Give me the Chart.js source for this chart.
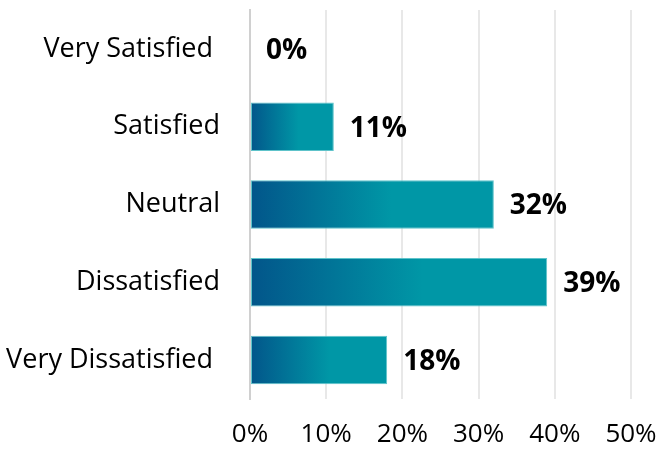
<!DOCTYPE html>
<html>
<head>
<meta charset="utf-8">
<script src="https://cdn.jsdelivr.net/npm/chart.js@4"></script>
<style>
  html, body { margin: 0; padding: 0; background: #ffffff; }
  #wrap { width: 659px; height: 455px; position: relative; }
</style>
</head>
<body>
<div id="wrap"><canvas id="chart"></canvas></div>
<script>
// Survey satisfaction breakdown
const categories = ['Very Satisfied ', 'Satisfied', 'Neutral', 'Dissatisfied', 'Very Dissatisfied '];
const shares = [0, 11, 32, 39, 18];
const axisMin = 0;
const axisMax = 50;
const axisStep = 10;

const DARK = '#02558a';
const TEAL = '#0097a6';

function barGradient(ctx) {
  const chart = ctx.chart;
  if (!chart.chartArea || ctx.type !== 'data') return TEAL;
  const xs = chart.scales.x;
  const x0 = xs.getPixelForValue(0);
  const x1 = xs.getPixelForValue(ctx.raw);
  if (x1 - x0 < 1) return TEAL;
  const g = chart.ctx.createLinearGradient(x0, 0, x1, 0);
  g.addColorStop(0, DARK);
  g.addColorStop(0.58, TEAL);
  g.addColorStop(1, TEAL);
  return g;
}

const valueLabels = {
  id: 'valueLabels',
  afterDatasetsDraw(chart) {
    const c = chart.ctx;
    const meta = chart.getDatasetMeta(0);
    c.save();
    c.font = 'bold 28px "Open Sans"';
    c.fillStyle = '#000000';
    c.textAlign = 'left';
    c.textBaseline = 'middle';
    meta.data.forEach((bar, i) => {
      c.fillText(shares[i] + '%', bar.x + 16, bar.y + 2);
    });
    c.restore();
  }
};

new Chart(document.getElementById('chart'), {
  type: 'bar',
  data: {
    labels: categories,
    datasets: [{
      data: shares,
      backgroundColor: barGradient,
      borderColor: '#5ec3ca',
      borderWidth: 1,
      borderSkipped: false,
      barPercentage: 0.78,
      categoryPercentage: 0.8
    }]
  },
  options: {
    indexAxis: 'y',
    responsive: true,
    maintainAspectRatio: false,
    animation: false,
    layout: { padding: { top: 10, right: 28, left: 0, bottom: 0 } },
    plugins: { legend: { display: false }, tooltip: { enabled: false } },
    scales: {
      x: {
        min: axisMin,
        max: axisMax,
        ticks: {
          stepSize: axisStep,
          callback: v => v + '%',
          color: '#000000',
          font: { family: 'Open Sans', size: 26 },
          padding: 20
        },
        grid: { color: '#e8e8e8', lineWidth: 2, drawTicks: false },
        border: { display: false },
        afterFit(scale) {
          scale.height = 56;
          scale.paddingLeft = 0;
          scale.paddingRight = 0;
        }
      },
      y: {
        ticks: {
          color: '#000000',
          font: { family: 'Open Sans', size: 27 },
          padding: 30
        },
        grid: { display: false, drawTicks: false },
        border: { display: true, color: '#d0d0d0', width: 2 },
        afterFit(scale) {
          scale.width = 250;
          scale.paddingTop = 0;
          scale.paddingBottom = 0;
        }
      }
    }
  },
  plugins: [valueLabels]
});
</script>
</body>
</html>
